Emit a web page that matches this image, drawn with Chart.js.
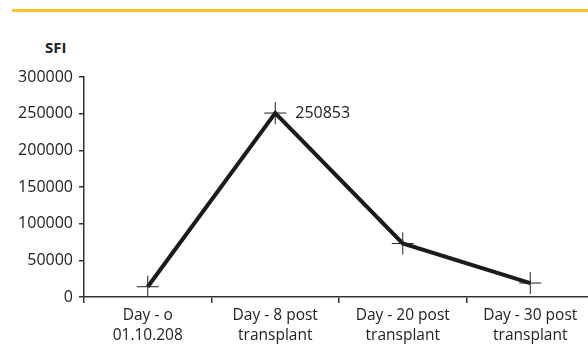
<!DOCTYPE html>
<html>
<head>
<meta charset="utf-8">
<script src="https://cdn.jsdelivr.net/npm/chart.js@4"></script>
<style>
    body { margin: 0; width: 588px; height: 344px; overflow: hidden; background: #fff; position: relative; }
    #balk { position: absolute; left: 12px; top: 9px; width: 576px; height: 3px; background: #fec32a; }
    #titel { position: absolute; left: 45px; top: 37px; font: bold 15px "Open Sans", sans-serif; color: #222; }
    #sfiChart { position: absolute; left: 0; top: 0; }
</style>
</head>
<body>
<div id="balk"></div>
<div id="titel">SFI</div>
<canvas id="sfiChart" width="594" height="344"></canvas>
<script>
// Data
const dagen = [
    ['Day - o', '01.10.208'],
    ['Day - 8 post', 'transplant'],
    ['Day - 20 post', 'transplant'],
    ['Day - 30 post', 'transplant']
];
const sfiWaarden = [14000, 250853, 73000, 19000];
const yTicks = [0, 50000, 100000, 150000, 200000, 250000, 300000];
const gelabeldePunt = 1; // alleen de piek krijgt een label

// Label naast de piek tekenen
const puntLabel = {
    id: 'puntLabel',
    afterDatasetsDraw(chart) {
        const meta = chart.getDatasetMeta(0);
        const p = meta.data[gelabeldePunt];
        const ctx = chart.ctx;
        ctx.save();
        ctx.font = '16px "Open Sans", sans-serif';
        ctx.fillStyle = '#222';
        ctx.textBaseline = 'middle';
        ctx.fillText(String(sfiWaarden[gelabeldePunt]), p.x + 20, p.y);
        ctx.restore();
    }
};

var sfiChart;

function tekenSfiGrafiek() {
    var ctx = document.getElementById('sfiChart').getContext('2d');
    sfiChart = new Chart(ctx, {
        type: 'line',
        data: {
            labels: dagen,
            datasets: [{
                label: 'SFI',
                data: sfiWaarden,
                borderColor: '#1b1b1b',
                borderWidth: 4,
                pointStyle: 'cross',
                pointRadius: 11,
                pointBorderWidth: 1,
                pointBorderColor: '#222',
                pointBackgroundColor: '#222',
                tension: 0
            }]
        },
        options: {
            responsive: false,
            animation: false,
            layout: { autoPadding: false, padding: { top: 77, left: 0, right: 0, bottom: 0 } },
            plugins: {
                legend: { display: false },
                tooltip: { enabled: false }
            },
            scales: {
                x: {
                    offset: true,
                    grid: {
                        offset: true,
                        drawOnChartArea: false,
                        tickLength: 6,
                        color: '#333',
                        lineWidth: 1.5
                    },
                    border: { color: '#333', width: 1.5 },
                    ticks: {
                        color: '#222',
                        font: { family: '"Open Sans", sans-serif', size: 15.5, lineHeight: 1.28 },
                        padding: 3,
                        maxRotation: 0,
                        autoSkip: false
                    },
                    afterFit(s) { s.height = 47; }
                },
                y: {
                    min: 0,
                    max: 300000,
                    afterBuildTicks(s) { s.ticks = yTicks.map(v => ({ value: v })); },
                    grid: {
                        drawOnChartArea: false,
                        tickLength: 5,
                        color: '#333',
                        lineWidth: 1.5
                    },
                    border: { color: '#333', width: 1.5 },
                    ticks: {
                        color: '#222',
                        font: { family: '"Open Sans", sans-serif', size: 16 },
                        padding: 6,
                        callback: (v) => String(v)
                    },
                    afterFit(s) { s.width = 84; }
                }
            }
        },
        plugins: [puntLabel]
    });
}

window.onload = function() {
    tekenSfiGrafiek();
};
</script>
</body>
</html>
